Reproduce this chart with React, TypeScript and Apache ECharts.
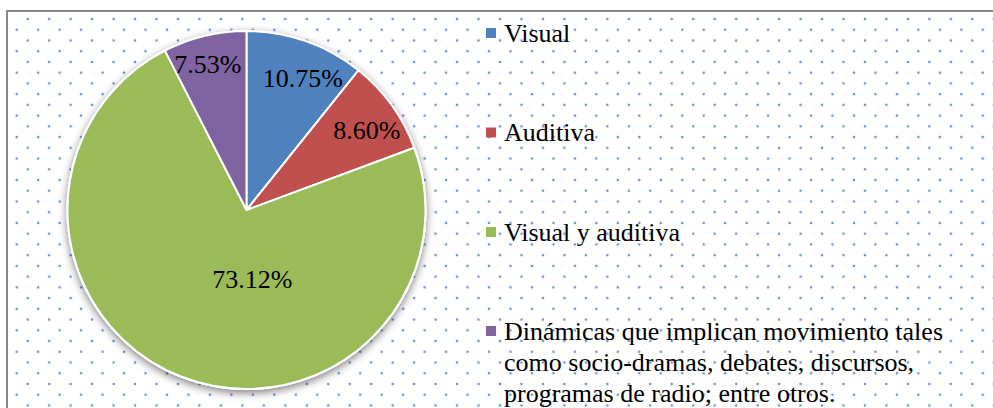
import React, { useEffect, useRef } from "react";
import * as echarts from "echarts";

const CATEGORIES = [
  "Visual",
  "Auditiva",
  "Visual y auditiva",
  "Dinámicas que implican movimiento tales\ncomo socio-dramas, debates, discursos,\nprogramas de radio; entre otros.",
];
const VALUES = [10.75, 8.6, 73.12, 7.53];
const COLORS = ["#4F81BD", "#C0504D", "#9BBB59", "#8064A2"];

// label nudges (style) relative to ECharts' default inside label position
const LABEL_NUDGE: [number, number][] = [
  [25.8, -44.7],
  [45.2, -25.1],
  [39.3, -16.2],
  [-17, -55.1],
];
const LEGEND_TOPS = [17.5, 117, 216.5, 253.5];

const FONT = "Liberation Serif";

export default function App() {
  const ref = useRef<HTMLDivElement>(null);
  useEffect(() => {
    if (!ref.current) return;
    const chart = echarts.init(ref.current, undefined, { renderer: "svg" });
    const center = [246.5, 210];
    chart.setOption({
      animation: false,
      textStyle: { fontFamily: FONT },
      graphic: [
        {
          type: "rect",
          shape: { x: 7, y: 11, width: 1010, height: 430 },
          style: { fill: "none", stroke: "#878787", lineWidth: 2 },
          silent: true,
          z: 0,
        },
      ],
      legend: CATEGORIES.map((name, i) => ({
        data: [name],
        orient: "vertical",
        left: 486,
        top: LEGEND_TOPS[i],
        padding: 0,
        itemWidth: 10,
        itemHeight: 10,
        icon: "rect",
        selectedMode: false,
        itemStyle: { borderWidth: 0 },
        formatter: (n: string) =>
          n
            .split("\n")
            .map((l) => "{t|" + l + "}")
            .join("\n"),
        textStyle: {
          fontFamily: FONT,
          fontSize: 26,
          lineHeight: 31,
          color: "#000",
          padding: i === 3 ? [62, 0, 0, 3] : [0, 0, 0, 3],
          rich: {
            t: { fontFamily: FONT, fontSize: 26, lineHeight: 31, color: "#000" },
          },
        },
      })),
      series: [
        {
          type: "pie",
          silent: true,
          center,
          radius: 180,
          z: 1,
          label: { show: false },
          labelLine: { show: false },
          data: [
            {
              value: 1,
              name: "__base",
              itemStyle: {
                color: "#fff",
                shadowBlur: 9,
                shadowOffsetY: 3,
                shadowColor: "rgba(0,0,0,0.5)",
              },
            },
          ],
        },
        {
          type: "pie",
          center,
          radius: 179,
          startAngle: 90,
          clockwise: true,
          z: 2,
          avoidLabelOverlap: false,
          itemStyle: { borderColor: "#fff", borderWidth: 2 },
          label: {
            show: true,
            position: "inside",
            fontFamily: FONT,
            fontSize: 26,
            color: "#000",
            formatter: (p: any) => p.value.toFixed(2) + "%",
          },
          labelLine: { show: false },
          labelLayout: (p: any) => {
            const n = LABEL_NUDGE[p.dataIndex] || [0, 0];
            return { dx: n[0], dy: n[1] };
          },
          emphasis: { disabled: true },
          data: CATEGORIES.map((name, i) => ({
            name,
            value: VALUES[i],
            itemStyle: { color: COLORS[i] },
          })),
        },
      ],
    });
    return () => chart.dispose();
  }, []);

  const dot =
    "radial-gradient(circle at center, rgba(80,130,200,0.95) 0, rgba(80,130,200,0.85) 0.8px, rgba(80,130,200,0) 1.7px)";
  return (
    <div style={{ position: "fixed", left: 0, top: 0, width: 993, height: 408, background: "#fff" }}>
      <style>{`#chart-host svg text, #chart-host svg tspan { font-family: "Liberation Serif", "Times New Roman", serif !important; }`}</style>
      <div
        style={{
          position: "absolute",
          left: 8,
          top: 12,
          right: 0,
          bottom: 0,
          backgroundImage: `${dot}, ${dot}`,
          backgroundSize: "21.48px 21.48px, 21.48px 21.48px",
          backgroundPosition: "8.96px -3.74px, -2.04px 7px",
        }}
      />
      <div id="chart-host" ref={ref} style={{ position: "absolute", left: 0, top: 0, width: 993, height: 408 }} />
    </div>
  );
}
